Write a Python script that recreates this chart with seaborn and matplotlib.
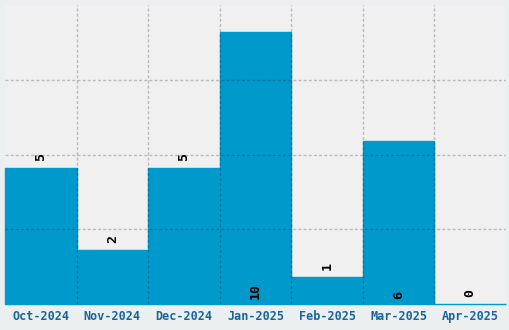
import matplotlib
matplotlib.use("Agg")
import matplotlib.pyplot as plt
import seaborn as sns
import pandas as pd

months = ["Oct-2024", "Nov-2024", "Dec-2024", "Jan-2025", "Feb-2025", "Mar-2025", "Apr-2025"]
counts = [5, 2, 5, 10, 1, 6, 0]
label_inside = [False, False, False, True, False, True, False]

df = pd.DataFrame({"month": months, "count": counts})

sns.set_style("white")
plt.rcParams['font.family'] = ['DejaVu Sans Mono', 'DejaVu Sans']

fig = plt.figure(figsize=(5.1, 3.3), dpi=100)
fig.patch.set_facecolor("#ECEFF0")
ax = fig.add_axes([5 / 510, 26 / 330, 501 / 510, 299 / 330])
ax.set_facecolor("#F0F0F0")

bar_color = "#0099CC"
sns.barplot(data=df, x="month", y="count", color=bar_color, width=1.0,
            saturation=1, edgecolor=bar_color, linewidth=1, ax=ax)
for p in ax.patches:
    p.set_clip_on(False)

ax.set_xlim(-0.5, len(months) - 0.5)
ax.set_ylim(0, 11)
ax.set_yticks([2.75, 5.5, 8.25])
ax.set_yticklabels([])
ax.set_xticks([i + 0.5 for i in range(len(months) - 1)], minor=True)
ax.tick_params(axis="y", length=0)
ax.tick_params(axis="x", which="both", length=0, pad=4)
ax.set_xticks(range(len(months)))
ax.set_xticklabels(months, fontsize=8.5, fontweight="bold", color="#17659A")
ax.set_xlabel("")
ax.set_ylabel("")
for s in ax.spines.values():
    s.set_visible(False)

ax.set_axisbelow(False)
ax.grid(False)
dash = (0, (2.2, 1.5))
ax.grid(True, which="minor", axis="x", color="black", alpha=0.22, linestyle=dash, linewidth=1)
ax.grid(True, which="major", axis="y", color="black", alpha=0.22, linestyle=dash, linewidth=1)

for i, (v, inside) in enumerate(zip(counts, label_inside)):
    y = 0.2 if inside else v + 0.25
    ax.text(i, y, str(v), rotation=90, ha="center", va="bottom", fontsize=9.5,
            fontweight="bold", color="black")

fig.savefig("out.png", dpi=100, facecolor=fig.get_facecolor())
